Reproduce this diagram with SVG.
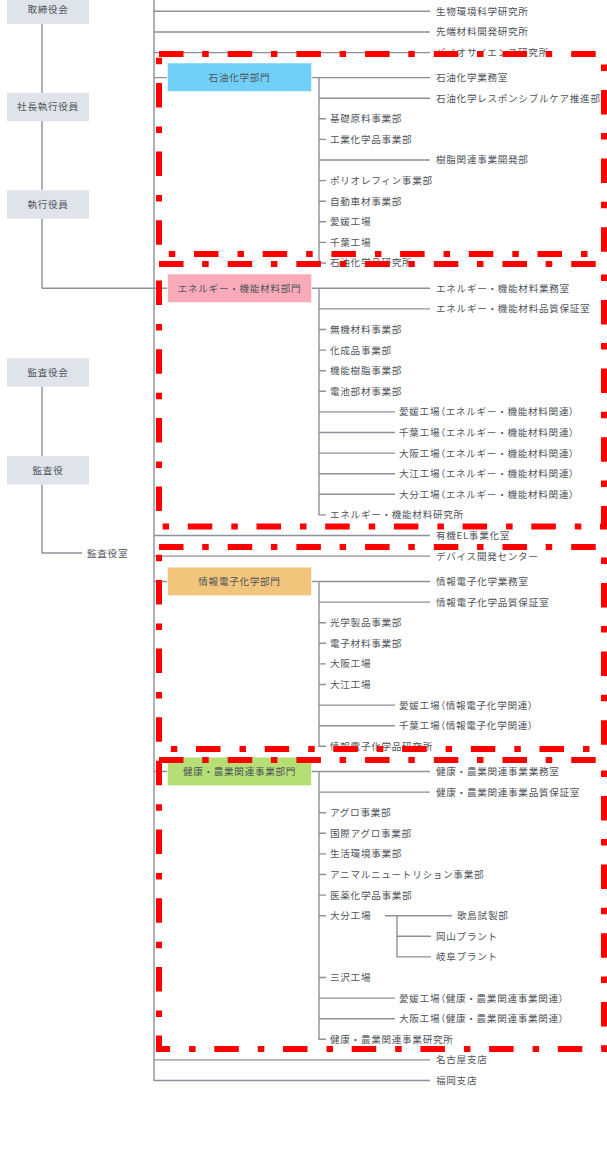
<svg xmlns="http://www.w3.org/2000/svg" width="607" height="1151" viewBox="0 0 607 1151">
<style>
text{font-family:"Noto Sans CJK JP","Noto Sans CJK SC",sans-serif;font-size:9.6px;letter-spacing:0.7px;fill:#4f545b}
.p{font-feature-settings:"palt"}
.c{text-anchor:middle}
.ln{fill:none;stroke:#8d919a;stroke-width:1.4}
.lb{fill:#dfe3ea}
.sec{stroke:#ffffff;stroke-width:1;stroke-opacity:0.5}
.red{fill:none;stroke:#ff0000;stroke-width:6;stroke-dasharray:24.5 18.7 6.5 19}
</style>
<rect width="607" height="1151" fill="#ffffff"/>
<g id="connectors" class="ln">
<path d="M154 0V1080.5H430"/>
<path d="M154 11.3H430M154 32H430M154 52.6H430M154 77.6H167M311 77.6H430M42 288.3H167M311 288.3H430M154 535.5H430M154 556.1H430M154 581.5H167M311 581.5H430M154 771.5H167M311 771.5H430M154 1059.9H430"/>
<path d="M42 24V93M42 121V190M42 219V288.3M42 386.5V456M42 484.5V553H82"/>
<path d="M319 77.6V263H326M319 98.2H430M319 160H430M319 118.8H326M319 139.4H326M319 180.6H326M319 201.2H326M319 221.8H326M319 242.4H326"/>
<path d="M319 288.3V514.9H326M319 308.9H430M319 329.5H326M319 350.1H326M319 370.7H326M319 391.3H326M319 411.9H395M319 432.5H395M319 453.1H395M319 473.7H395M319 494.3H395"/>
<path d="M319 581.5V746.3H326M319 602.1H430M319 622.7H326M319 643.3H326M319 663.9H326M319 684.5H326M319 705.1H395M319 725.7H395"/>
<path d="M319 771.5V1039.3H326M319 792.1H430M319 812.7H326M319 833.3H326M319 853.9H326M319 874.5H326M319 895.1H326M319 915.7H326M319 977.5H326M319 998.1H395M319 1018.7H395M385 915.7H452M397 915.7V956.9H431M397 936.3H431"/>
</g>
<g id="n-board"><rect class="lb" x="7" y="-4.5" width="82" height="28.5"/><text class="c" x="48" y="12.9">取締役会</text></g>
<g id="n-president"><rect class="lb" x="7" y="92.7" width="82" height="28.5"/><text class="c" x="48" y="110.4">社長執行役員</text></g>
<g id="n-executive"><rect class="lb" x="7" y="190.3" width="82" height="28.5"/><text class="c" x="48" y="208">執行役員</text></g>
<g id="n-audit-board"><rect class="lb" x="7" y="358.3" width="82" height="28.5"/><text class="c" x="48" y="376">監査役会</text></g>
<g id="n-auditor"><rect class="lb" x="7" y="456" width="82" height="28.5"/><text class="c" x="48" y="473.7">監査役</text></g>
<g id="n-audit-office"><text x="87" y="556.6">監査役室</text></g>
<g id="n-sec-petro"><rect class="sec" x="167.5" y="63" width="144" height="28.5" fill="#72d0f8"/><text class="c" x="239.5" y="81">石油化学部門</text></g>
<g id="n-sec-energy"><rect class="sec" x="167.5" y="274" width="144" height="28.5" fill="#f9aab9"/><text class="c" x="239.5" y="291.7">エネルギー・機能材料部門</text></g>
<g id="n-sec-info"><rect class="sec" x="167.5" y="567.2" width="144" height="28.5" fill="#f2c57c"/><text class="c" x="239.5" y="584.9">情報電子化学部門</text></g>
<g id="n-sec-health"><rect class="sec" x="167.5" y="757.2" width="144" height="28.5" fill="#b5de75"/><text class="c" x="239.5" y="774.9">健康・農業関連事業部門</text></g>
<g id="labels">
<g id="n-l1"><text x="436" y="14.7">生物環境科学研究所</text></g>
<g id="n-l2"><text x="436" y="35.4">先端材料開発研究所</text></g>
<g id="n-l3"><text x="436" y="56">バイオサイエンス研究所</text></g>
<g id="n-p1"><text x="436" y="81">石油化学業務室</text></g>
<g id="n-p2"><text x="436" y="101.6">石油化学レスポンシブルケア推進部</text></g>
<g id="n-p3"><text x="330" y="122.2">基礎原料事業部</text></g>
<g id="n-p4"><text x="330" y="142.8">工業化学品事業部</text></g>
<g id="n-p5"><text x="436" y="163.4">樹脂関連事業開発部</text></g>
<g id="n-p6"><text x="330" y="184">ポリオレフィン事業部</text></g>
<g id="n-p7"><text x="330" y="204.6">自動車材事業部</text></g>
<g id="n-p8"><text x="330" y="225.2">愛媛工場</text></g>
<g id="n-p9"><text x="330" y="245.8">千葉工場</text></g>
<g id="n-p10"><text x="330" y="266.4">石油化学品研究所</text></g>
<g id="n-e1"><text x="436" y="291.7">エネルギー・機能材料業務室</text></g>
<g id="n-e2"><text x="436" y="312.3">エネルギー・機能材料品質保証室</text></g>
<g id="n-e3"><text x="330" y="332.9">無機材料事業部</text></g>
<g id="n-e4"><text x="330" y="353.5">化成品事業部</text></g>
<g id="n-e5"><text x="330" y="374.1">機能樹脂事業部</text></g>
<g id="n-e6"><text x="330" y="394.7">電池部材事業部</text></g>
<g id="n-e7"><text x="399" y="415.3">愛媛工場<tspan class="p">（</tspan>エネルギー・機能材料関連<tspan class="p">）</tspan></text></g>
<g id="n-e8"><text x="399" y="435.9">千葉工場<tspan class="p">（</tspan>エネルギー・機能材料関連<tspan class="p">）</tspan></text></g>
<g id="n-e9"><text x="399" y="456.5">大阪工場<tspan class="p">（</tspan>エネルギー・機能材料関連<tspan class="p">）</tspan></text></g>
<g id="n-e10"><text x="399" y="477.1">大江工場<tspan class="p">（</tspan>エネルギー・機能材料関連<tspan class="p">）</tspan></text></g>
<g id="n-e11"><text x="399" y="497.7">大分工場<tspan class="p">（</tspan>エネルギー・機能材料関連<tspan class="p">）</tspan></text></g>
<g id="n-e12"><text x="330" y="518.3">エネルギー・機能材料研究所</text></g>
<g id="n-l4"><text x="436" y="538.9">有機EL事業化室</text></g>
<g id="n-l5"><text x="436" y="559.5">デバイス開発センター</text></g>
<g id="n-i1"><text x="436" y="584.9">情報電子化学業務室</text></g>
<g id="n-i2"><text x="436" y="605.5">情報電子化学品質保証室</text></g>
<g id="n-i3"><text x="330" y="626.1">光学製品事業部</text></g>
<g id="n-i4"><text x="330" y="646.7">電子材料事業部</text></g>
<g id="n-i5"><text x="330" y="667.3">大阪工場</text></g>
<g id="n-i6"><text x="330" y="687.9">大江工場</text></g>
<g id="n-i7"><text x="399" y="708.5">愛媛工場<tspan class="p">（</tspan>情報電子化学関連<tspan class="p">）</tspan></text></g>
<g id="n-i8"><text x="399" y="729.1">千葉工場<tspan class="p">（</tspan>情報電子化学関連<tspan class="p">）</tspan></text></g>
<g id="n-i9"><text x="330" y="749.7">情報電子化学品研究所</text></g>
<g id="n-h1"><text x="436" y="774.9">健康・農業関連事業業務室</text></g>
<g id="n-h2"><text x="436" y="795.5">健康・農業関連事業品質保証室</text></g>
<g id="n-h3"><text x="330" y="816.1">アグロ事業部</text></g>
<g id="n-h4"><text x="330" y="836.7">国際アグロ事業部</text></g>
<g id="n-h5"><text x="330" y="857.3">生活環境事業部</text></g>
<g id="n-h6"><text x="330" y="877.9">アニマルニュートリション事業部</text></g>
<g id="n-h7"><text x="330" y="898.5">医薬化学品事業部</text></g>
<g id="n-h8"><text x="330" y="919.1">大分工場</text></g>
<g id="n-h9"><text x="457" y="919.1">歌島試製部</text></g>
<g id="n-h10"><text x="436" y="939.7">岡山プラント</text></g>
<g id="n-h11"><text x="436" y="960.3">岐阜プラント</text></g>
<g id="n-h12"><text x="330" y="980.9">三沢工場</text></g>
<g id="n-h13"><text x="399" y="1001.5">愛媛工場<tspan class="p">（</tspan>健康・農業関連事業関連<tspan class="p">）</tspan></text></g>
<g id="n-h14"><text x="399" y="1022.1">大阪工場<tspan class="p">（</tspan>健康・農業関連事業関連<tspan class="p">）</tspan></text></g>
<g id="n-h15"><text x="330" y="1042.7">健康・農業関連事業研究所</text></g>
<g id="n-l6"><text x="436" y="1063.3">名古屋支店</text></g>
<g id="n-l7"><text x="436" y="1083.9">福岡支店</text></g>
</g>
<g id="highlights">
<rect class="red" x="159" y="54" width="445" height="200"/>
<rect class="red" x="159" y="264" width="445" height="262.5"/>
<rect class="red" x="159" y="547" width="445" height="202"/>
<rect class="red" x="159" y="760" width="445" height="289"/>
</g>
</svg>
